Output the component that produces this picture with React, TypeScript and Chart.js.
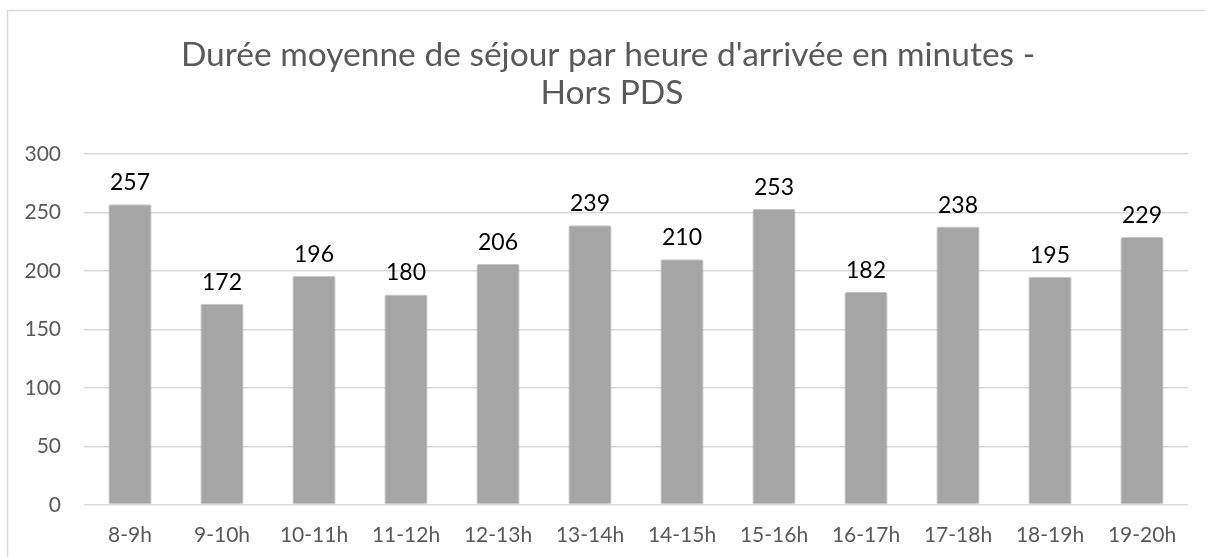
import React, { useEffect, useRef } from "react";
import { Chart, registerables } from "chart.js";

Chart.register(...registerables);

const categories = ["8-9h", "9-10h", "10-11h", "11-12h", "12-13h", "13-14h", "14-15h", "15-16h", "16-17h", "17-18h", "18-19h", "19-20h"];
const values = [257, 172, 196, 180, 206, 239, 210, 253, 182, 238, 195, 229];
const titleLines = ["Durée moyenne de séjour par heure d'arrivée en minutes -", "Hors PDS"];
const yTicks = [0, 50, 100, 150, 200, 250, 300];

const FONT = "Lato, 'Open Sans', sans-serif";

const decorPlugin = {
  id: "decor",
  beforeDraw(chart: any) {
    const ctx = chart.ctx;
    ctx.save();
    ctx.fillStyle = "#ffffff";
    ctx.fillRect(0, 0, chart.width, chart.height);
    ctx.strokeStyle = "#D9D9D9";
    ctx.lineWidth = 1.5;
    ctx.strokeRect(7.5, 10.5, 3000, 3000);
    ctx.fillStyle = "#595959";
    ctx.font = `33.5px ${FONT}`;
    ctx.textAlign = "center";
    ctx.textBaseline = "alphabetic";
    ctx.fillText(titleLines[0], 608, 66);
    ctx.fillText(titleLines[1], 612, 104);
    ctx.restore();
  },
  afterDatasetsDraw(chart: any) {
    const ctx = chart.ctx;
    const meta = chart.getDatasetMeta(0);
    ctx.save();
    ctx.fillStyle = "#000000";
    ctx.font = `23px ${FONT}`;
    ctx.textAlign = "center";
    ctx.textBaseline = "alphabetic";
    meta.data.forEach((bar: any, i: number) => {
      ctx.fillText(String(values[i]), bar.x, bar.y - 14);
    });
    ctx.restore();
  },
};

export default function App() {
  const ref = useRef<HTMLCanvasElement>(null);
  useEffect(() => {
    if (!ref.current) return;
    const chart = new Chart(ref.current, {
      type: "bar",
      data: {
        labels: categories,
        datasets: [
          {
            data: values,
            backgroundColor: "#A5A5A5",
            borderColor: "#C4C4C4",
            borderWidth: 1,
            borderRadius: 2,
            borderSkipped: false,
            barPercentage: 0.47,
            categoryPercentage: 1,
          },
        ],
      },
      options: {
        animation: false,
        responsive: false,
        layout: { padding: { top: 154, left: 0, right: 17, bottom: 0 } },
        plugins: {
          legend: { display: false },
          title: { display: false },
          tooltip: { enabled: false },
        },
        scales: {
          x: {
            grid: { display: false, drawTicks: false },
            border: { display: false },
            ticks: { color: "#595959", font: { family: FONT, size: 21 }, padding: 18, maxRotation: 0, autoSkip: false },
            afterFit: (s: any) => { s.height = 52; },
          },
          y: {
            min: 0,
            max: 300,
            afterBuildTicks: (s: any) => { s.ticks = yTicks.map((v) => ({ value: v })); },
            grid: { color: "#D9D9D9", lineWidth: 1.5, drawTicks: false },
            border: { display: false },
            ticks: { color: "#595959", font: { family: FONT, size: 21 }, padding: 23 },
            afterFit: (s: any) => { s.width = 84; },
          },
        },
      },
      plugins: [decorPlugin],
    });
    return () => chart.destroy();
  }, []);
  return (
    <div style={{ position: "fixed", left: 0, top: 0, width: 1205, height: 557 }}>
      <canvas ref={ref} width={1205} height={557} style={{ display: "block" }} />
    </div>
  );
}
